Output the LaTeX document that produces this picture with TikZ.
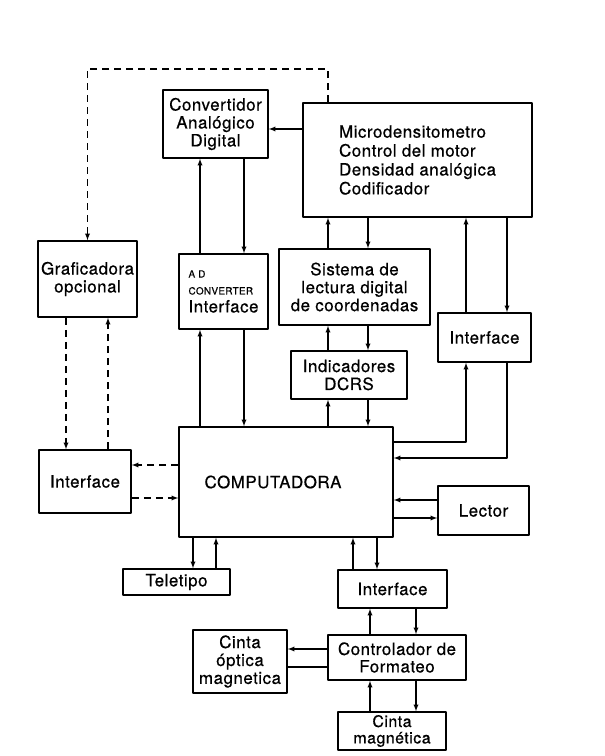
\documentclass[tikz,border=0pt]{standalone}
\usepackage{fontspec}
\setmainfont[LetterSpace=3,FakeBold=0.6]{TeX Gyre Heros}
\tikzset{
  blk/.style={draw,line width=1.6bp,inner sep=0pt,align=center,font=\fontsize{17}{18}\selectfont},
  dsh/.style={dash pattern=on 7bp off 5bp},
}
\newcommand{\smalltxt}{\fontsize{10}{12}\selectfont}
\begin{document}
\begin{tikzpicture}[>=latex,line join=bevel,line width=1.3bp]
\useasboundingbox (0bp,0bp) rectangle (605bp,756bp);
%%
\node (node_conv) at (215.5bp,632bp) [blk,minimum width=105bp,minimum height=68bp] {Convertidor\\Analógico\\Digital};
  \node (node_micro) at (417.5bp,596bp) [blk,align=left,minimum width=229bp,minimum height=114bp,font=\fontsize{17}{19}\selectfont] {Microdensitometro\\Control del motor\\Densidad analógica\\Codificador};
  \node (node_graf) at (87.5bp,477bp) [blk,minimum width=99bp,minimum height=76bp] {Graficadora\\opcional};
  \node (node_adc) at (223.5bp,464.5bp) [blk,align=left,minimum width=89bp,minimum height=75bp] {{\smalltxt A D}\\[-1bp]{\smalltxt CONVERTER}\\Interface};
  \node (node_sis) at (354.5bp,469bp) [blk,minimum width=151bp,minimum height=76bp] {Sistema de\\lectura digital\\de coordenadas};
  \node (node_ind) at (349bp,381bp) [blk,minimum width=116bp,minimum height=48bp] {Indicadores\\DCRS};
  \node (node_rif) at (484.5bp,418.5bp) [blk,minimum width=93bp,minimum height=49bp] {Interface};
  \node (node_comp) at (286bp,274bp) [blk,minimum width=214bp,minimum height=110bp] {COMPUTADORA\hspace*{26bp}};
  \node (node_gif) at (85bp,274.5bp) [blk,minimum width=92bp,minimum height=63bp] {Interface};
  \node (node_lect) at (483.5bp,245.5bp) [blk,minimum width=91bp,minimum height=49bp] {Lector};
  \node (node_tele) at (176.5bp,174bp) [blk,minimum width=107bp,minimum height=26bp] {Teletipo};
  \node (node_bif) at (392.5bp,167bp) [blk,minimum width=109bp,minimum height=38bp] {Interface};
  \node (node_ctrl) at (397bp,98.5bp) [blk,minimum width=138bp,minimum height=45bp,font=\fontsize{17}{17.5}\selectfont] {Controlador de\\Formateo};
  \node (node_opt) at (240bp,94.5bp) [blk,minimum width=94bp,minimum height=63bp] {Cinta\\óptica\\magnetica};
  \node (node_mag) at (392bp,25bp) [blk,minimum width=108bp,minimum height=38bp,font=\fontsize{16}{16.5}\selectfont] {Cinta\\magnética};
%
  \coordinate (x_66) at (66bp,0bp);
  \coordinate (x_87) at (87.5bp,0bp);
  \coordinate (x_108) at (108bp,0bp);
  \coordinate (x_193) at (193bp,0bp);
  \coordinate (x_200) at (200bp,0bp);
  \coordinate (x_216) at (216bp,0bp);
  \coordinate (x_244) at (244bp,0bp);
  \coordinate (x_328) at (328bp,0bp);
  \coordinate (x_353) at (353bp,0bp);
  \coordinate (x_368) at (368bp,0bp);
  \coordinate (x_370) at (370bp,0bp);
  \coordinate (x_377) at (377bp,0bp);
  \coordinate (x_416) at (416bp,0bp);
  \coordinate (x_466) at (466bp,0bp);
  \coordinate (x_507) at (507bp,0bp);
  \coordinate (y_687) at (0bp,687bp);
  \coordinate (y_627) at (0bp,627bp);
  \coordinate (y_314) at (0bp,314bp);
  \coordinate (y_298) at (0bp,298bp);
  \coordinate (y_291) at (0bp,291bp);
  \coordinate (y_258) at (0bp,258bp);
  \coordinate (y_256) at (0bp,256bp);
  \coordinate (y_238) at (0bp,238bp);
  \coordinate (y_107) at (0bp,107bp);
  \coordinate (y_89) at (0bp,89bp);
%
  \draw [black,dsh,->] (node_micro.north -| x_328) |- (y_687 -| x_87) -- (node_graf.north -| x_87);
  \draw [black,->] (node_micro.west |- y_627) -- (node_conv.east |- y_627);
  \draw [black,->] (node_adc.north -| x_200) -- (node_conv.south -| x_200);
  \draw [black,->] (node_conv.south -| x_244) -- (node_adc.north -| x_244);
  \draw [black,->] (node_comp.north -| x_200) -- (node_adc.south -| x_200);
  \draw [black,->] (node_adc.south -| x_244) -- (node_comp.north -| x_244);
  \draw [black,dsh,->] (node_graf.south -| x_66) -- (node_gif.north -| x_66);
  \draw [black,dsh,->] (node_gif.north -| x_108) -- (node_graf.south -| x_108);
  \draw [black,dsh,->] (node_comp.west |- y_291) -- (node_gif.east |- y_291);
  \draw [black,dsh,->] (node_gif.east |- y_258) -- (node_comp.west |- y_258);
  \draw [black,->] (node_sis.north -| x_328) -- (node_micro.south -| x_328);
  \draw [black,->] (node_micro.south -| x_368) -- (node_sis.north -| x_368);
  \draw [black,->] (node_ind.north -| x_328) -- (node_sis.south -| x_328);
  \draw [black,->] (node_sis.south -| x_368) -- (node_ind.north -| x_368);
  \draw [black,->] (node_comp.north -| x_328) -- (node_ind.south -| x_328);
  \draw [black,->] (node_ind.south -| x_368) -- (node_comp.north -| x_368);
  \draw [black,->] (node_rif.north -| x_466) -- (node_micro.south -| x_466);
  \draw [black,->] (node_micro.south -| x_507) -- (node_rif.north -| x_507);
  \draw [black,->] (node_comp.east |- y_314) -| (node_rif.south -| x_466);
  \draw [black,->] (node_rif.south -| x_507) |- (node_comp.east |- y_298);
  \draw [black,->] (node_lect.west |- y_256) -- (node_comp.east |- y_256);
  \draw [black,->] (node_comp.east |- y_238) -- (node_lect.west |- y_238);
  \draw [black,->] (node_comp.south -| x_193) -- (node_tele.north -| x_193);
  \draw [black,->] (node_tele.north -| x_216) -- (node_comp.south -| x_216);
  \draw [black,->] (node_bif.north -| x_353) -- (node_comp.south -| x_353);
  \draw [black,->] (node_comp.south -| x_377) -- (node_bif.north -| x_377);
  \draw [black,->] (node_ctrl.north -| x_370) -- (node_bif.south -| x_370);
  \draw [black,->] (node_bif.south -| x_416) -- (node_ctrl.north -| x_416);
  \draw [black,->] (node_ctrl.west |- y_107) -- (node_opt.east |- y_107);
  \draw [black] (node_opt.east |- y_89) -- (node_ctrl.west |- y_89);
  \draw [black,->] (node_mag.north -| x_370) -- (node_ctrl.south -| x_370);
  \draw [black,->] (node_ctrl.south -| x_416) -- (node_mag.north -| x_416);
%
\end{tikzpicture}
\end{document}
